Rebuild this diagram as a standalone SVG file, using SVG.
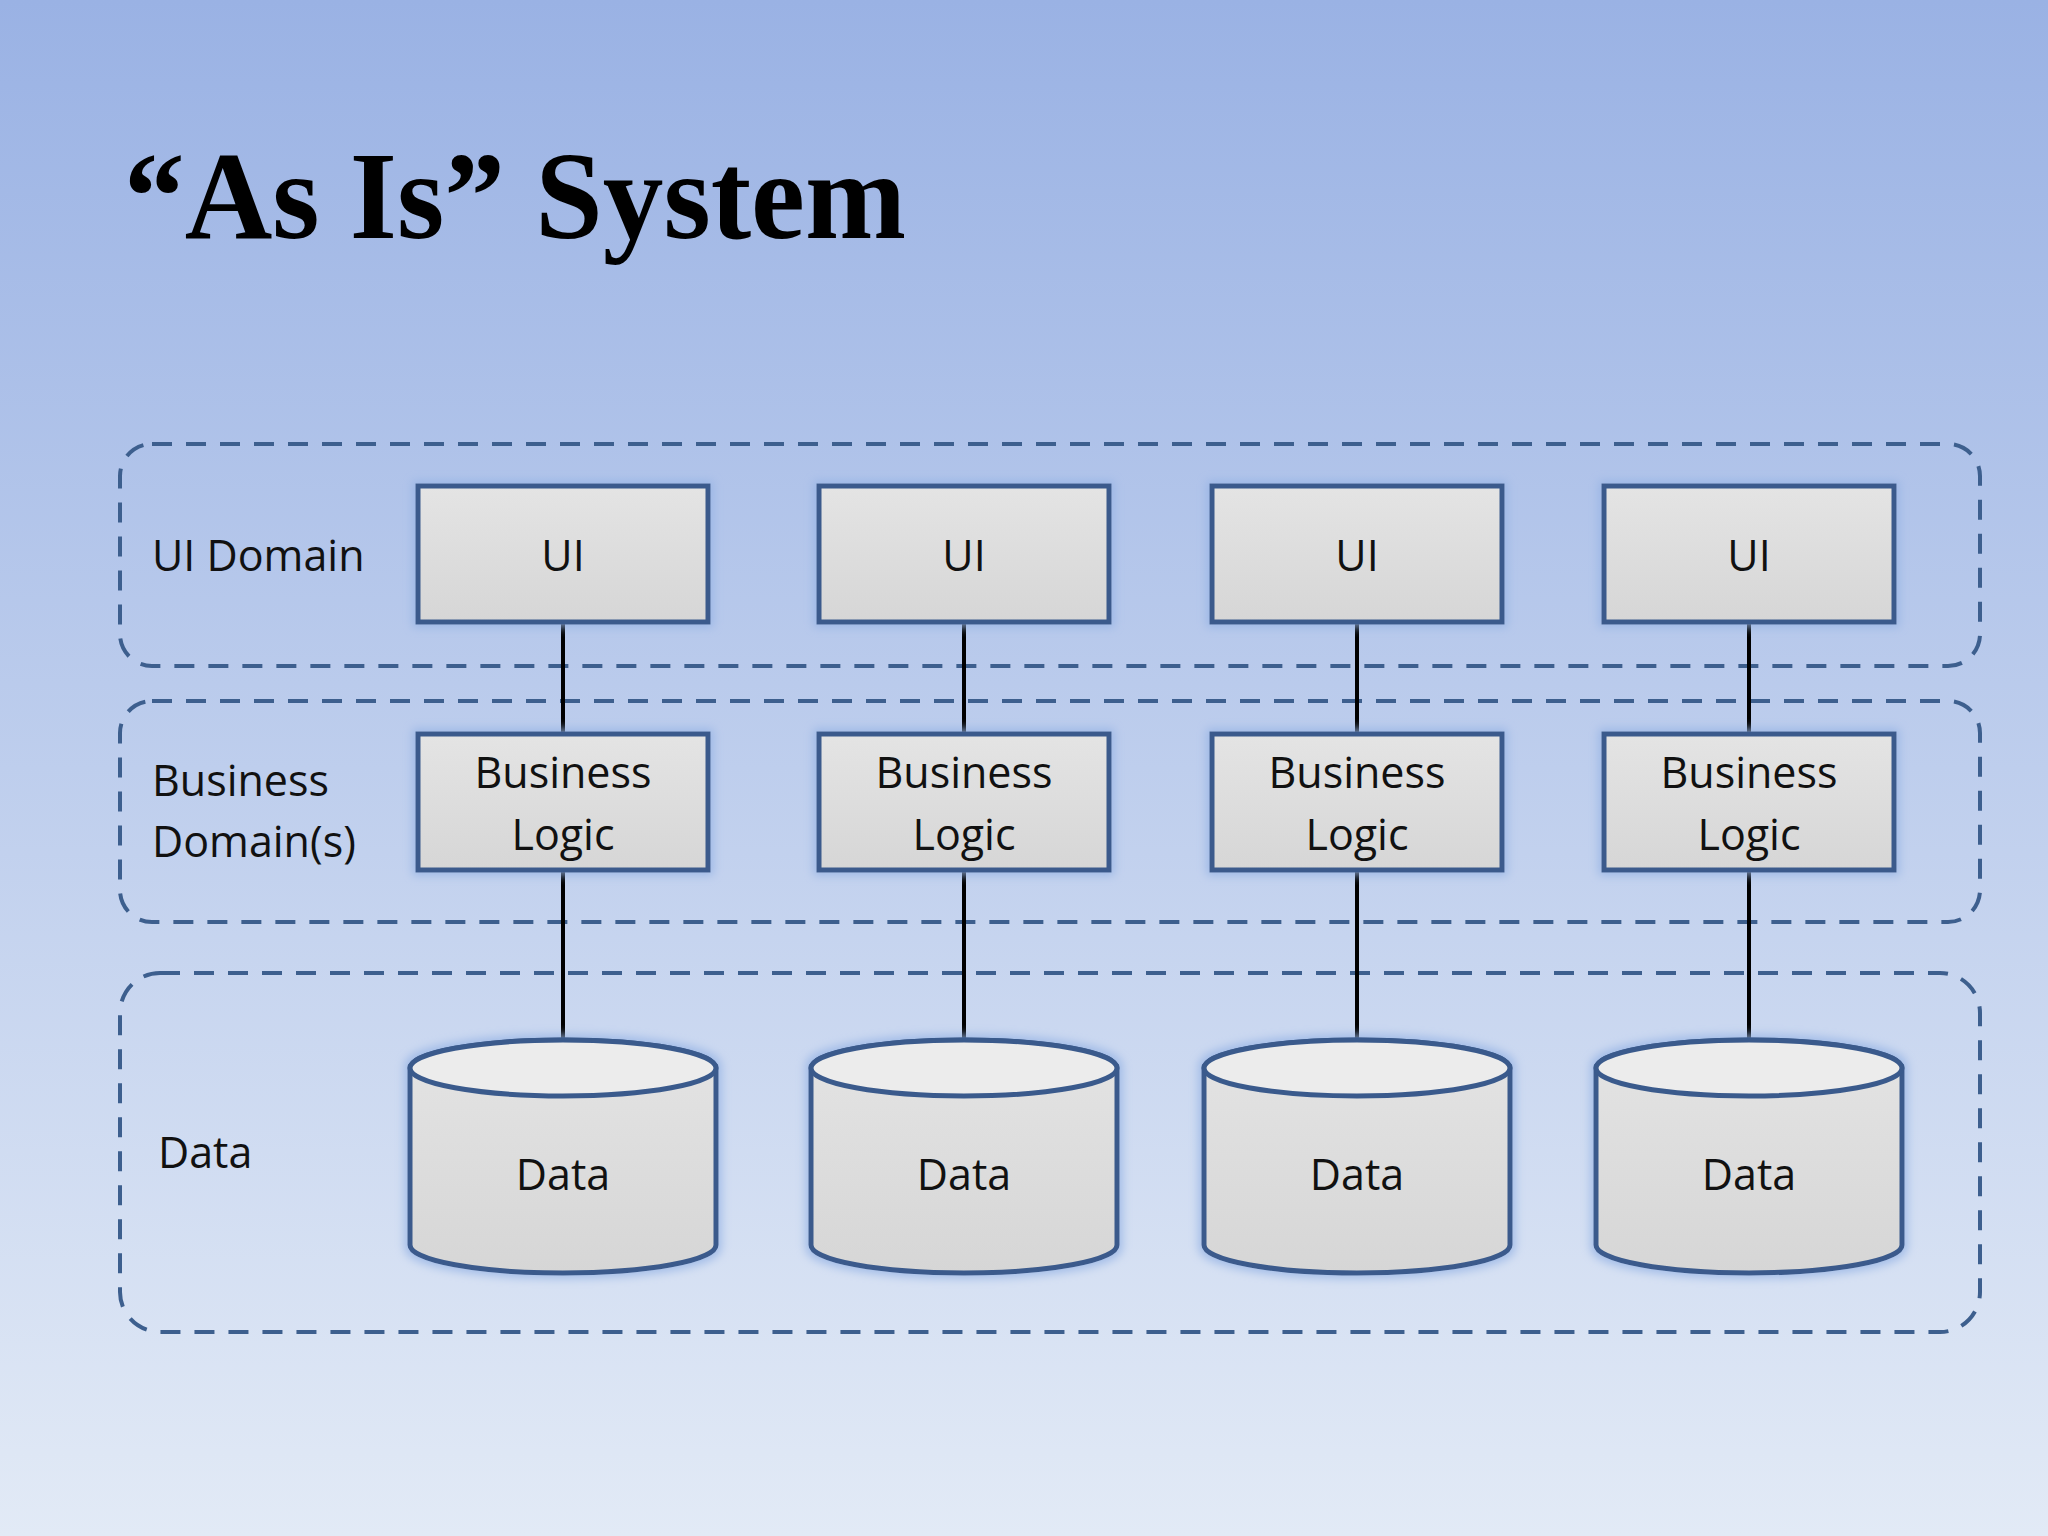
<svg xmlns="http://www.w3.org/2000/svg" width="2048" height="1536" viewBox="0 0 2048 1536">
<defs>
<linearGradient id="bg" x1="0" y1="0" x2="0" y2="1"><stop offset="0" stop-color="#9ab2e4"/><stop offset="1" stop-color="#e2eaf6"/></linearGradient>
<linearGradient id="bx" x1="0" y1="0" x2="0" y2="1"><stop offset="0" stop-color="#e4e4e4"/><stop offset="1" stop-color="#d6d6d6"/></linearGradient>
<filter id="glow" x="-20%" y="-20%" width="140%" height="140%"><feMorphology in="SourceAlpha" operator="dilate" radius="3" result="d"/><feGaussianBlur in="d" stdDeviation="5"/><feComponentTransfer><feFuncA type="linear" slope="0.8"/></feComponentTransfer><feColorMatrix type="matrix" values="0 0 0 0 0.3 0 0 0 0 0.45 0 0 0 0 0.78 0 0 0 1 0"/><feMerge><feMergeNode/><feMergeNode in="SourceGraphic"/></feMerge></filter>
</defs>
<style>
.reg{fill:none;stroke:#3d5f8e;stroke-width:4;stroke-dasharray:20 14}
.box{fill:url(#bx);stroke:#3a5a8c;stroke-width:5;filter:url(#glow)}
.t{font-family:"Open Sans","Liberation Sans",sans-serif;font-size:43px;fill:#111;text-anchor:middle}
.l{font-family:"Open Sans","Liberation Sans",sans-serif;font-size:43px;fill:#111}
.c{stroke:#000;stroke-width:4}
</style>
<rect width="2048" height="1536" fill="url(#bg)"/>
<text x="124" y="238" font-family="Liberation Serif,serif" font-weight="bold" font-size="124" fill="#000" textLength="782" lengthAdjust="spacingAndGlyphs">“As Is” System</text>
<g id="regions">
<rect class="reg" x="120" y="444" width="1860" height="222" rx="32"/>
<rect class="reg" x="120" y="701" width="1860" height="221" rx="32"/>
<rect class="reg" x="120" y="973" width="1860" height="359" rx="40"/>
<text class="l" x="152" y="571">UI Domain</text>
<text class="l" x="152" y="796">Business</text>
<text class="l" x="152" y="857">Domain(s)</text>
<text class="l" x="158" y="1168">Data</text>
</g>
<g id="connectors">
<line class="c" x1="563" y1="622" x2="563" y2="1041"/>
<line class="c" x1="964" y1="622" x2="964" y2="1041"/>
<line class="c" x1="1357" y1="622" x2="1357" y2="1041"/>
<line class="c" x1="1749" y1="622" x2="1749" y2="1041"/>
</g>
<g id="col1">
<rect class="box" x="418" y="486" width="290" height="136"/><text class="t" x="563" y="571">UI</text>
<rect class="box" x="418" y="734" width="290" height="136"/><text class="t" x="563" y="788">Business</text><text class="t" x="563" y="850">Logic</text>
<path class="box" d="M410 1068 V1245 A153 28 0 0 0 716 1245 V1068 A153 28 0 0 0 410 1068 Z"/><ellipse cx="563" cy="1068" rx="153" ry="28" fill="#ececec" stroke="#3a5a8c" stroke-width="5"/><text class="t" x="563" y="1190">Data</text>
</g>
<g id="col2">
<rect class="box" x="819" y="486" width="290" height="136"/><text class="t" x="964" y="571">UI</text>
<rect class="box" x="819" y="734" width="290" height="136"/><text class="t" x="964" y="788">Business</text><text class="t" x="964" y="850">Logic</text>
<path class="box" d="M811 1068 V1245 A153 28 0 0 0 1117 1245 V1068 A153 28 0 0 0 811 1068 Z"/><ellipse cx="964" cy="1068" rx="153" ry="28" fill="#ececec" stroke="#3a5a8c" stroke-width="5"/><text class="t" x="964" y="1190">Data</text>
</g>
<g id="col3">
<rect class="box" x="1212" y="486" width="290" height="136"/><text class="t" x="1357" y="571">UI</text>
<rect class="box" x="1212" y="734" width="290" height="136"/><text class="t" x="1357" y="788">Business</text><text class="t" x="1357" y="850">Logic</text>
<path class="box" d="M1204 1068 V1245 A153 28 0 0 0 1510 1245 V1068 A153 28 0 0 0 1204 1068 Z"/><ellipse cx="1357" cy="1068" rx="153" ry="28" fill="#ececec" stroke="#3a5a8c" stroke-width="5"/><text class="t" x="1357" y="1190">Data</text>
</g>
<g id="col4">
<rect class="box" x="1604" y="486" width="290" height="136"/><text class="t" x="1749" y="571">UI</text>
<rect class="box" x="1604" y="734" width="290" height="136"/><text class="t" x="1749" y="788">Business</text><text class="t" x="1749" y="850">Logic</text>
<path class="box" d="M1596 1068 V1245 A153 28 0 0 0 1902 1245 V1068 A153 28 0 0 0 1596 1068 Z"/><ellipse cx="1749" cy="1068" rx="153" ry="28" fill="#ececec" stroke="#3a5a8c" stroke-width="5"/><text class="t" x="1749" y="1190">Data</text>
</g>
</svg>
